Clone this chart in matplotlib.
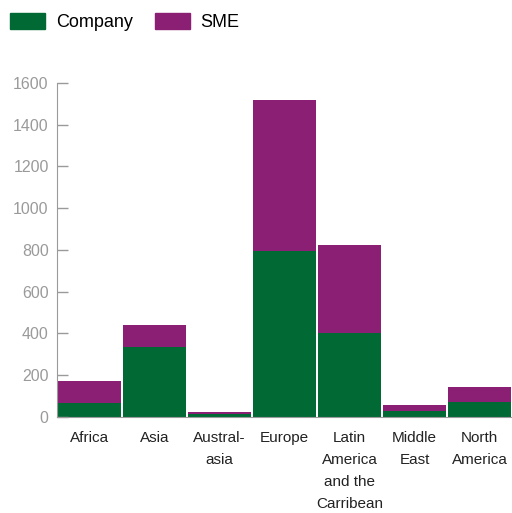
import matplotlib.pyplot as plt
from matplotlib.patches import Patch

regions = ["Africa", "Asia", "Austral-\nasia", "Europe",
           "Latin\nAmerica\nand the\nCarribean", "Middle\nEast", "North\nAmerica"]
company = [65, 335, 12, 795, 400, 28, 72]
sme = [105, 105, 10, 725, 422, 29, 69]

green = "#006934"
purple = "#8b1f74"
grey = "#9a9a9a"

plt.rcParams['font.family'] = ['Liberation Sans', 'DejaVu Sans']

fig = plt.figure(figsize=(5.12, 5.13), dpi=100)
ax = fig.add_axes([57 / 512, 1 - 416.7 / 513, 455 / 512, (416.7 - 83) / 513])

x = range(len(regions))
ax.bar(x, company, width=0.975, color=green, linewidth=0)
ax.bar(x, sme, width=0.975, bottom=company, color=purple, linewidth=0)

ax.set_xlim(-0.5, len(regions) - 0.5)
ax.set_ylim(0, 1600)
ax.set_yticks(range(0, 1601, 200))
ax.set_xticks(list(x))
ax.set_xticklabels(regions, fontsize=11, color="#222222", linespacing=1.75, va="top")

ax.tick_params(axis="y", direction="in", length=8, width=1, color=grey,
               labelsize=11.5, labelcolor=grey, pad=6)
ax.tick_params(axis="x", length=0, pad=10)

for s in ["top", "right"]:
    ax.spines[s].set_visible(False)
ax.spines["left"].set_color(grey)
ax.spines["bottom"].set_color(grey)

handles = [Patch(color=green, label="Company"), Patch(color=purple, label="SME")]
fig.legend(handles=handles, loc="upper left", bbox_to_anchor=(10 / 512, 1 - 13 / 513),
           ncol=2, frameon=False, fontsize=13, handlelength=1.95, handleheight=1.0,
           handletextpad=0.6, columnspacing=1.2, borderpad=0, borderaxespad=0)

fig.savefig("out.png", dpi=100)
